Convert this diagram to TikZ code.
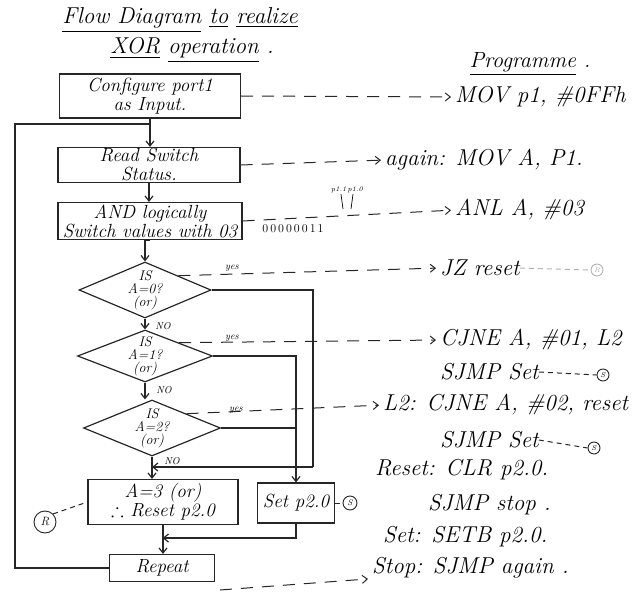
\documentclass[tikz,border=0pt]{standalone}
\usepackage{amssymb}
\usetikzlibrary{shapes.geometric,arrows.meta,calc}
\begin{document}
\begin{tikzpicture}[x=1pt,y=-1pt,
  ink/.style={line width=1.2pt, draw=black!85},
  box/.style={ink, rectangle, inner sep=0pt, font=\fontsize{19}{19}\selectfont\itshape, align=center},
  dia/.style={ink, diamond, inner sep=0pt},
  diatext/.style={font=\fontsize{14}{13}\selectfont\itshape, align=center, inner sep=0pt},
  flow/.style={ink, -{Straight Barb[length=5pt,width=8pt]}},
  dasharrow/.style={line width=1pt, draw=black!85, dash pattern=on 12pt off 9pt, shorten >=4pt, -{Straight Barb[length=5pt,width=8pt]}},
  dashline/.style={line width=1pt, draw=black!85, dash pattern=on 5pt off 4pt},
  prog/.style={anchor=west, font=\fontsize{23}{24}\selectfont\itshape, inner sep=0pt},
  lbl/.style={font=\fontsize{10}{10}\selectfont\itshape, inner sep=1pt},
  circ/.style={circle, draw=black!85, line width=0.9pt, inner sep=0pt},
]
\useasboundingbox (0,0) rectangle (637,596);

% titles
\node[font=\fontsize{23}{24}\selectfont\itshape] (t1) at (180,20) {\underline{Flow Diagram} \underline{to} \underline{realize}};
\node[font=\fontsize{23}{24}\selectfont\itshape] (t2) at (192,50) {\underline{XOR} \underline{operation} .};
\node[font=\fontsize{22}{24}\selectfont\itshape] (pt) at (530,64) {\underline{Programme} .};

% flow boxes
\node[box, minimum width=181pt, minimum height=44pt] (b1) at (150,96) {Configure port1\\ as Input.};
\node[box, minimum width=182pt, minimum height=35pt] (b2) at (149,165) {Read Switch\\ Status.};
\node[box, minimum width=184pt, minimum height=37pt] (b3) at (150,221) {AND logically\\ Switch values with 03};
\node[dia, minimum width=132pt, minimum height=56pt] (d1) at (145,290) {};
\node[diatext] (d1t) at (d1.center) {IS\\ A=0?\\ (or)};
\node[dia, minimum width=135pt, minimum height=52pt] (d2) at (145,356) {};
\node[diatext] (d2t) at (d2.center) {IS\\ A=1?\\ (or)};
\node[dia, minimum width=137pt, minimum height=56pt] (d3) at (152,428) {};
\node[diatext] (d3t) at (d3.center) {IS\\ A=2?\\ (or)};
\node[box, minimum width=150pt, minimum height=45pt] (rs) at (163,502) {A=3 (or)\\ $\therefore$ Reset p2.0};
\node[box, minimum width=77pt, minimum height=40pt] (st) at (296,503) {Set p2.0};
\node[box, minimum width=105pt, minimum height=27pt] (rp) at (162,568) {Repeat};

% markers
\node[circ, minimum size=22pt, font=\fontsize{12}{12}\selectfont\itshape] (rc) at (45,522) {R};
\node[circ, minimum size=14pt, font=\fontsize{8}{8}\selectfont\itshape] (sc) at (350,503) {S};
\draw[dashline] (rc.north east) -- (rs.west);
\draw[dashline] (st.east) -- (sc.west);

% flow connectors
\coordinate (loopc) at (15,124);
\draw[flow] (b1.south) -- (b1.south |- b2.north);
\draw[ink] (rp.west) -| (loopc) -- (loopc -| b1.south);
\draw[flow] (b2.south) -- (b2.south |- b3.north);
\draw[flow] (b3.south) -- (b3.south -| d1.north) -- (d1.north);
\draw[flow] (d1.south) -- (d2.north);
\draw[flow] (d2.south) -- (d2.south |- d3.north);
\draw[flow] (d3.south) -- (d3.south |- rs.north);
\coordinate (yesx) at (313,467);
\draw[ink] (d1.east) -| (yesx);
\draw[flow] (yesx) -- (yesx -| d3.south);
\draw[flow] (d2.east) -| (st.north);
\draw[ink] (d3.east) -- (d3.east -| st.north);
\draw[flow] (st.south) |- ($(rs.south)!0.45!(rp.north)$);
\draw[flow] (rs.south) -- (rs.south |- rp.north);

% labels on flow
\node[lbl] (y1) at (232,268) {yes};
\node[lbl] (y2) at (232,338) {yes};
\node[lbl] (y3) at (236,410) {yes};
\node[lbl] (n1) at (163,326) {NO};
\node[lbl] (n2) at (164,390) {NO};
\node[lbl] (n3) at (172,461) {NO};

% programme
\node[prog] (p1) at (455,97) {MOV p1, \#0FFh};
\node[prog] (p2) at (385,160) {again: MOV A, P1.};
\node[prog] (p3) at (455,210) {ANL A, \#03};
\node[prog] (p4) at (440,268) {JZ reset};
\node[prog] (p5) at (440,340) {CJNE A, \#01, L2};
\node[prog] (p6) at (440,372) {SJMP Set};
\node[prog] (p7) at (383,405) {L2: CJNE A, \#02, reset};
\node[prog] (p8) at (440,440) {SJMP Set};
\node[prog] (p9) at (375,470) {Reset: CLR p2.0.};
\node[prog] (p10) at (428,505) {SJMP stop .};
\node[prog] (p11) at (383,537) {Set: SETB p2.0.};
\node[prog] (p12) at (372,568) {Stop: SJMP again .};

\node[circ, minimum size=12pt, font=\fontsize{7}{7}\selectfont\itshape] (s1) at (603,375) {S};
\node[circ, minimum size=12pt, font=\fontsize{7}{7}\selectfont\itshape] (s2) at (594,448) {S};
\node[circ, draw=black!30, minimum size=12pt, font=\fontsize{7}{7}\selectfont\itshape, text=black!35] (r4) at (597,270) {R};
\draw[dashline] (p6.east) -- (s1.west);
\draw[dashline] (p8.east) -- (s2.west);
\draw[dashline, draw=black!30] (p4.east) -- (r4.west);

% dashed arrows
\draw[dasharrow] (b1.east) -- (p1.west);
\draw[dasharrow] (b2.east) -- (p2.west);
\draw[dasharrow] (b3.east) -- (p3.west);
\draw[dasharrow] (d1.north east) -- (p4.west);
\draw[dasharrow] (d2.north east) -- (p5.west);
\draw[dasharrow] (d3.north east) -- (p7.west);
\coordinate (bd) at (220,590);
\draw[dasharrow] (bd) -- (p12.south west);

% bit annotation
\node[font=\fontsize{12}{12}\selectfont, inner sep=0pt] (bits) at (293,229) {0\,0\,0\,0\,0\,0\,1\,1};
\node[font=\fontsize{7}{7}\selectfont\itshape, inner sep=0pt] (pbits) at (347,190) {p1.1\,p1.0};
\draw[line width=0.7pt] (pbits.south) ++(-6,1) -- (343,209);
\draw[line width=0.7pt] (pbits.south) ++(6,1) -- (351,209);
\end{tikzpicture}
\end{document}
